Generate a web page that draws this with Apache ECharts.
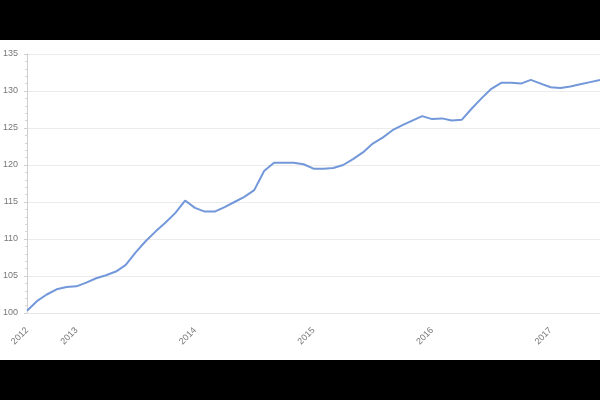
<!DOCTYPE html>
<html>
<head>
<meta charset="utf-8">
<script src="https://cdn.jsdelivr.net/npm/echarts@6/dist/echarts.min.js"></script>
<style>
html,body{margin:0;padding:0;background:#000;width:600px;height:400px;overflow:hidden;}
#chart{position:absolute;left:0;top:40px;width:600px;height:320px;background:#fff;}
</style>
</head>
<body>
<div id="chart"></div>
<script>
const months = [
 "2012-08","2012-09","2012-10","2012-11","2012-12",
 "2013-01","2013-02","2013-03","2013-04","2013-05","2013-06","2013-07","2013-08","2013-09","2013-10","2013-11","2013-12",
 "2014-01","2014-02","2014-03","2014-04","2014-05","2014-06","2014-07","2014-08","2014-09","2014-10","2014-11","2014-12",
 "2015-01","2015-02","2015-03","2015-04","2015-05","2015-06","2015-07","2015-08","2015-09","2015-10","2015-11","2015-12",
 "2016-01","2016-02","2016-03","2016-04","2016-05","2016-06","2016-07","2016-08","2016-09","2016-10","2016-11","2016-12",
 "2017-01","2017-02","2017-03","2017-04","2017-05","2017-06"
];
const values = [
 100.3,101.6,102.5,103.2,103.5,
 103.6,104.1,104.7,105.1,105.6,106.5,108.2,109.7,111.0,112.2,113.5,115.2,
 114.2,113.7,113.7,114.3,115.0,115.7,116.6,119.2,120.3,120.3,120.3,120.1,
 119.5,119.5,119.6,120.0,120.8,121.7,122.9,123.7,124.7,125.4,126.0,126.6,
 126.2,126.3,126.0,126.1,127.6,129.0,130.3,131.1,131.1,131.0,131.5,131.0,
 130.5,130.4,130.6,130.9,131.2,131.5
];
const yMin = 100, yMax = 135, yStep = 5;

const chart = echarts.init(document.getElementById('chart'));
chart.setOption({
  animation: false,
  grid: { left: 25, right: -3, top: 14, bottom: 47 },
  xAxis: {
    type: 'category',
    data: months,
    boundaryGap: false,
    axisLine: { show: true, lineStyle: { color: '#e6e6e6' } },
    axisTick: { show: false },
    splitLine: { show: false },
    axisLabel: {
      rotate: 45,
      fontSize: 9,
      color: '#777',
      fontFamily: 'Liberation Sans',
      margin: 16,
      interval: function (i, v) { return i === 0 || v.slice(5) === '01'; },
      formatter: function (v) { return v.slice(0, 4); }
    }
  },
  yAxis: {
    type: 'value',
    min: yMin, max: yMax, interval: yStep,
    axisLine: { show: true, lineStyle: { color: '#cfcfcf' } },
    axisTick: { show: true, length: 3, lineStyle: { color: '#cfcfcf' } },
    minorTick: { show: true, splitNumber: 5, length: 2, lineStyle: { color: '#d6d6d6' } },
    splitLine: { show: true, lineStyle: { color: '#ebebeb' } },
    axisLabel: { fontSize: 9, color: '#777', fontFamily: 'Liberation Sans', margin: 9 }
  },
  series: [{
    type: 'line',
    data: values,
    showSymbol: false,
    symbol: 'none',
    lineStyle: { color: '#7398da', width: 2 }
  }]
});
</script>
</body>
</html>
